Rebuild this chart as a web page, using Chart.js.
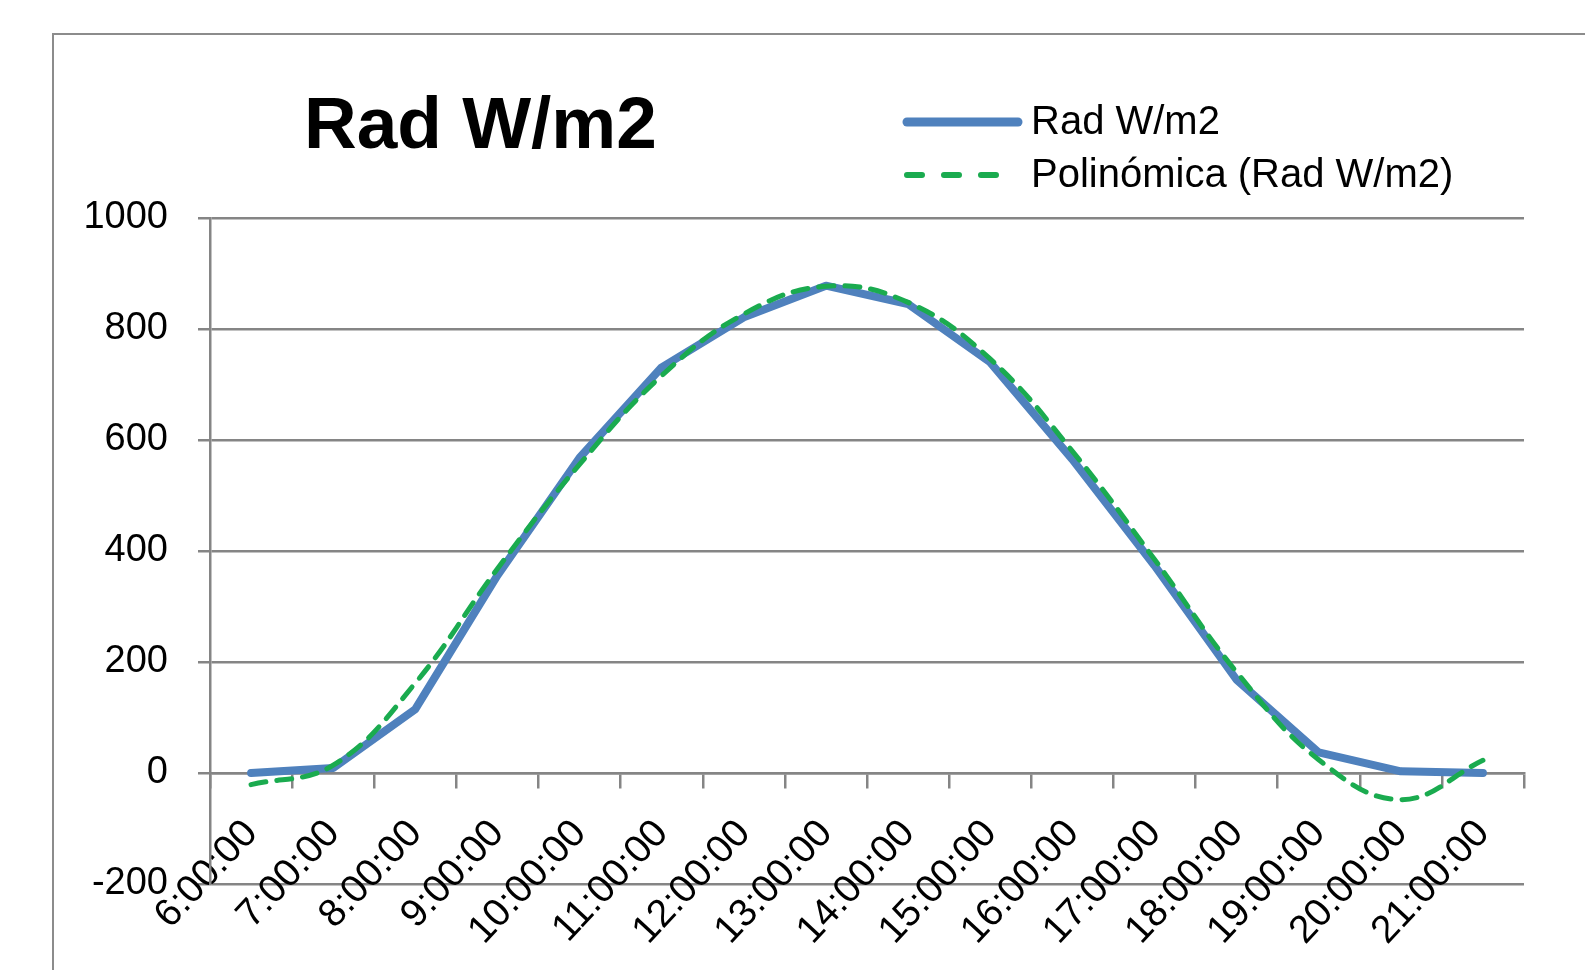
<!DOCTYPE html>
<html><head><meta charset="utf-8">
<script src="https://cdn.jsdelivr.net/npm/chart.js@4.4.1/dist/chart.umd.min.js"></script>
<style>
html,body{margin:0;padding:0;background:#fff;width:1585px;height:970px;overflow:hidden}
#frame{position:absolute;left:52px;top:33px;width:1600px;height:1000px;border-left:2px solid #8c8c8c;border-top:2px solid #8c8c8c;box-sizing:border-box}
#wrap{position:absolute;left:0;top:0;width:1585px;height:970px}
</style></head><body>
<div id="frame"></div>
<div id="wrap"><canvas id="c"></canvas></div>
<script>
const categories = ['6:00:00','7:00:00','8:00:00','9:00:00','10:00:00','11:00:00','12:00:00','13:00:00','14:00:00','15:00:00','16:00:00','17:00:00','18:00:00','19:00:00','20:00:00','21:00:00'];
const radValues = [0, 9, 115, 356, 568, 731, 821, 878, 845, 740, 565, 374, 168, 37, 3, 0];
const trendValues = [-21, 14, 162, 368, 556, 716, 827, 877, 848, 746, 580, 385, 182, 24, -48, 23];
const yMin = -200, yMax = 1000, yStep = 200;
const titleText = 'Rad W/m2';
const seriesLabel = 'Rad W/m2';
const trendLabel = 'Polinómica (Rad W/m2)';

const FONT = "'Liberation Sans', Arial, sans-serif";
const GRID = '#858585';

const titleLegendPlugin = {
  id: 'titleLegend',
  afterDraw(chart) {
    const ctx = chart.ctx;
    ctx.save();
    ctx.fillStyle = '#000';
    ctx.font = 'bold 73px ' + FONT;
    ctx.textBaseline = 'alphabetic';
    ctx.textAlign = 'left';
    ctx.fillText(titleText, 304, 148);
    const rows = [
      {ds: chart.data.datasets[0], y: 122, x2: 1018, w: 9, dash: []},
      {ds: chart.data.datasets[1], y: 175, x2: 1001, w: 6, dash: [15, 22]}
    ];
    ctx.font = '40px ' + FONT;
    ctx.textBaseline = 'middle';
    rows.forEach(r => {
      ctx.beginPath();
      ctx.strokeStyle = r.ds.borderColor;
      ctx.lineWidth = r.w;
      ctx.lineCap = 'round';
      ctx.setLineDash(r.dash);
      ctx.moveTo(907, r.y);
      ctx.lineTo(r.x2, r.y);
      ctx.stroke();
      ctx.setLineDash([]);
      ctx.fillStyle = '#000';
      ctx.fillText(r.ds.label, 1031, r.y + 1);
    });
    ctx.restore();
  }
};

new Chart(document.getElementById('c'), {
  type: 'line',
  data: {
    labels: categories,
    datasets: [
      {label: seriesLabel, data: radValues, borderColor: '#4F81BD', borderWidth: 8, pointRadius: 0, tension: 0, order: 2, borderJoinStyle: 'round', borderCapStyle: 'round', fill: false},
      {label: trendLabel, data: trendValues, borderColor: '#1AAB4F', borderWidth: 5, borderDash: [15, 11], borderCapStyle: 'round', pointRadius: 0, tension: 0.4, order: 1, fill: false}
    ]
  },
  options: {
    responsive: true,
    maintainAspectRatio: false,
    animation: false,
    devicePixelRatio: 1,
    layout: {padding: {left: 0, top: 218, right: 61, bottom: 86}},
    plugins: {legend: {display: false}, title: {display: false}, tooltip: {enabled: false}},
    scales: {
      x: {
        type: 'category',
        position: {y: 0},
        offset: true,
        grid: {offset: true, drawOnChartArea: false, drawTicks: true, tickLength: 14, color: GRID, lineWidth: 2.5},
        border: {display: true, color: GRID, width: 2.5},
        ticks: {autoSkip: false, minRotation: 47, maxRotation: 47, color: '#000', font: {family: FONT, size: 39}, padding: 24}
      },
      y: {
        min: yMin, max: yMax,
        ticks: {stepSize: yStep, color: '#000', font: {family: FONT, size: 38}, padding: 30, callback: v => String(v)},
        grid: {color: GRID, lineWidth: 2.5, drawTicks: true, tickLength: 12},
        border: {display: true, color: GRID, width: 2.5},
        afterFit(scale) { scale.width = 210; }
      }
    }
  },
  plugins: [titleLegendPlugin]
});
</script>
</body></html>
